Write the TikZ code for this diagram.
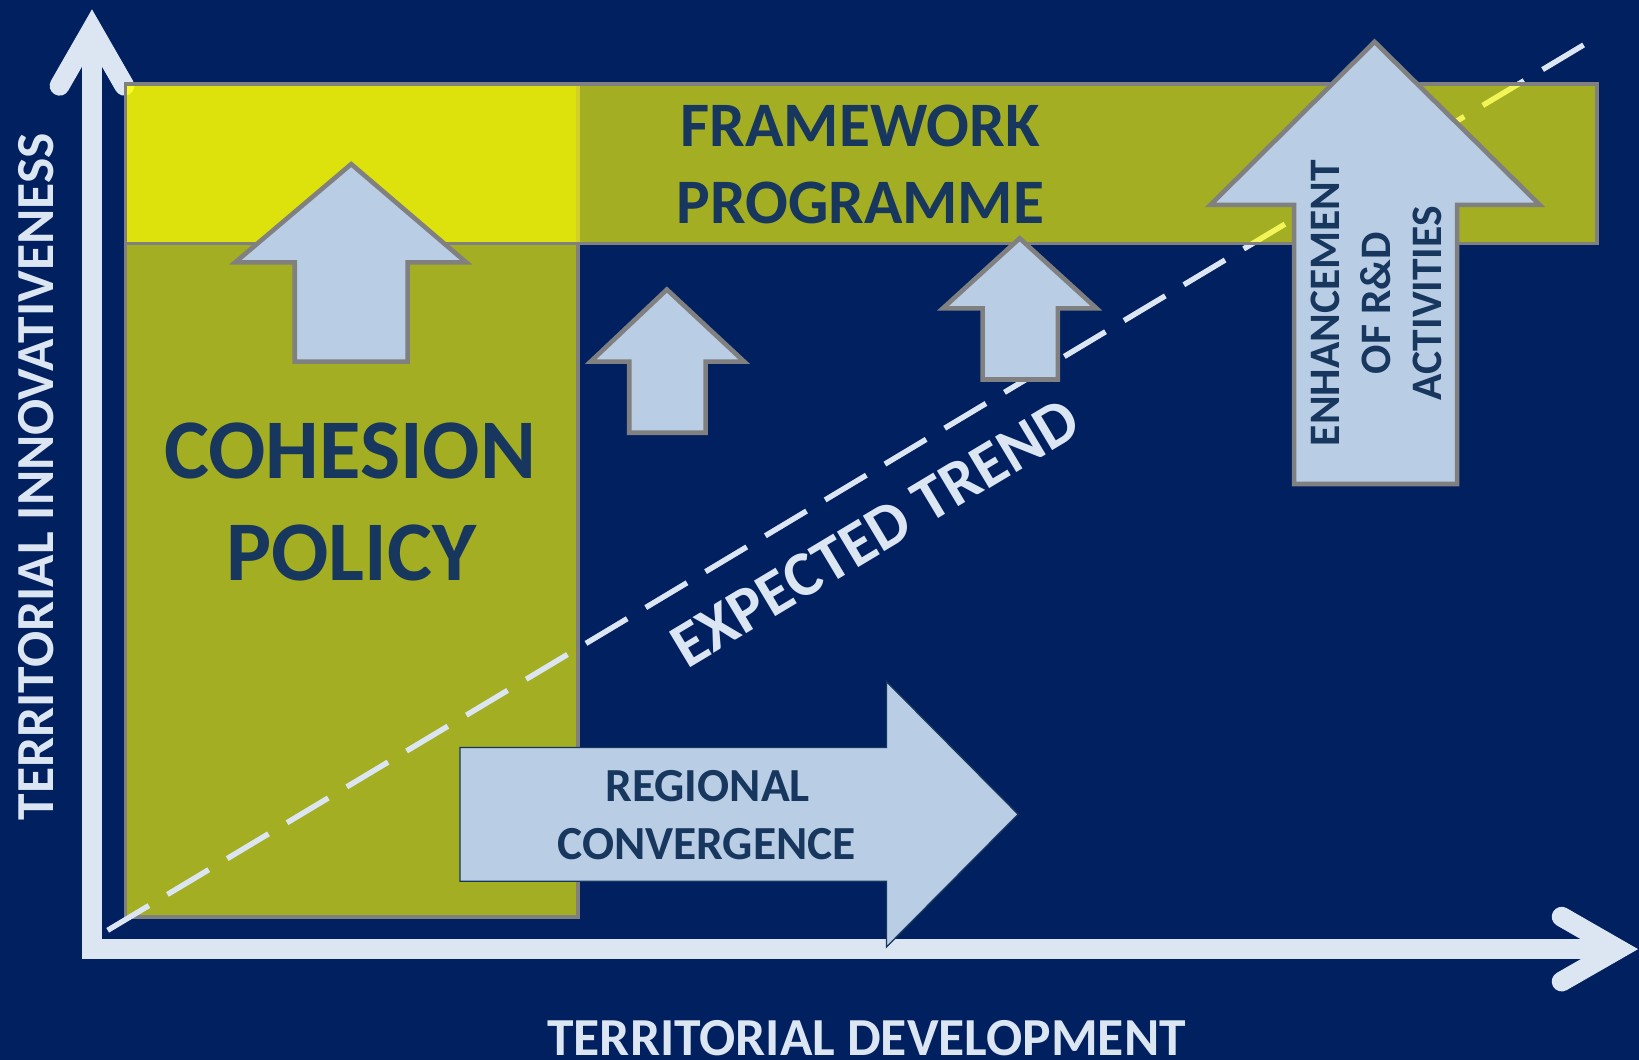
\documentclass[tikz,border=0pt]{standalone}
\usepackage{fontspec}
\setmainfont{Carlito}
\definecolor{bg}{RGB}{0,32,96}
\definecolor{axiscol}{RGB}{220,230,242}
\definecolor{arrowfill}{RGB}{185,205,229}
\definecolor{edgegray}{RGB}{128,128,128}
\definecolor{txt}{RGB}{23,55,94}
\definecolor{panelyellow}{RGB}{255,255,0}
\tikzset{
  axisline/.style={draw=axiscol, line width=9.5pt, line join=miter, line cap=round},
  panel/.style={fill=panelyellow, fill opacity=0.64, draw=edgegray, line width=1.8pt},
  uparrow/.style={fill=arrowfill, draw=edgegray, line width=2.2pt, line join=miter},
  rightarrow/.style={fill=arrowfill, draw=txt, line width=0.6pt, line join=miter},
  trendline/.style={draw=axiscol, line width=2.6pt, dash pattern=on 23pt off 10.35pt},
  lbl/.style={inner sep=0pt, anchor=base, font=\bfseries},
}
\begin{document}
\begin{tikzpicture}[x=0.5pt, y=-0.5pt]
\useasboundingbox (0,0) rectangle (1568,1014);
\fill[bg] (0,0) rectangle (1568,1014);
% axes
\coordinate (ytip) at (88,28);
\coordinate (origin) at (88,908);
\coordinate (xtip) at (1548,908);
\draw[axisline, line cap=butt] (ytip) -- (origin) -- (xtip);
\draw[axisline] (57,82) -- (ytip) -- (119,82);
\draw[axisline] (1494,877) -- (xtip) -- (1494,939);
% cohesion policy panel
\draw[panel] (120,80) rectangle (553,877);
% expected trend line
\coordinate (trendA) at (103,890);
\coordinate (trendB) at (1515,43);
\draw[trendline] (trendA) -- (trendB);
% framework programme panel
\draw[panel] (120,80) rectangle (1528,233);
% up arrows
\draw[uparrow] (336,157) -- (446,251) -- (390,251) -- (390,346) -- (282,346) -- (282,251) -- (225,251) -- cycle;
\draw[uparrow] (638,277) -- (712,346) -- (675,346) -- (675,414) -- (602,414) -- (602,346) -- (565,346) -- cycle;
\draw[uparrow] (975.5,228) -- (1049,295) -- (1012,295) -- (1012,363) -- (940,363) -- (940,295) -- (902,295) -- cycle;
\draw[uparrow] (1315,40) -- (1473,196) -- (1394,196) -- (1394,463) -- (1238,463) -- (1238,196) -- (1158,196) -- cycle;
% regional convergence arrow
\draw[rightarrow] (440,715) -- (848,715) -- (848,652) -- (974,779) -- (848,906) -- (848,843) -- (440,843) -- cycle;
% texts
\node[lbl, txt, font=\bfseries\fontsize{40.6}{48}\selectfont] (coh1) at (335,458) {COHESION};
\node[lbl, txt, font=\bfseries\fontsize{40.6}{48}\selectfont] (coh2) at (336,555) {POLICY};
\node[lbl, txt, font=\bfseries\fontsize{30.3}{36}\selectfont] (fp1) at (823,140) {FRAMEWORK};
\node[lbl, txt, font=\bfseries\fontsize{30.3}{36}\selectfont] (fp2) at (823,213.5) {PROGRAMME};
\node[lbl, txt, font=\bfseries\fontsize{22.7}{27}\selectfont] (rc1) at (677,767) {REGIONAL};
\node[lbl, txt, font=\bfseries\fontsize{22.7}{27}\selectfont] (rc2) at (676,822) {CONVERGENCE};
\node[lbl, txt, rotate=90, font=\bfseries\fontsize{20.8}{25}\selectfont] (rd1) at (1281,290) {ENHANCEMENT};
\node[lbl, txt, rotate=90, font=\bfseries\fontsize{20.8}{25}\selectfont] (rd2) at (1330,290) {OF R\&D};
\node[lbl, txt, rotate=90, font=\bfseries\fontsize{20.8}{25}\selectfont] (rd3) at (1379,290) {ACTIVITIES};
\node[lbl, axiscol, rotate=30.96, font=\bfseries\fontsize{30.5}{36}\selectfont] (trend) at (847,527) {EXPECTED TREND};
\node[lbl, axiscol, rotate=90, font=\bfseries\fontsize{25.6}{30}\selectfont] (ylab) at (51,456) {TERRITORIAL INNOVATIVENESS};
\node[lbl, axiscol, font=\bfseries\fontsize{25.6}{30}\selectfont] (xlab) at (829,1010) {TERRITORIAL DEVELOPMENT};
\end{tikzpicture}
\end{document}
